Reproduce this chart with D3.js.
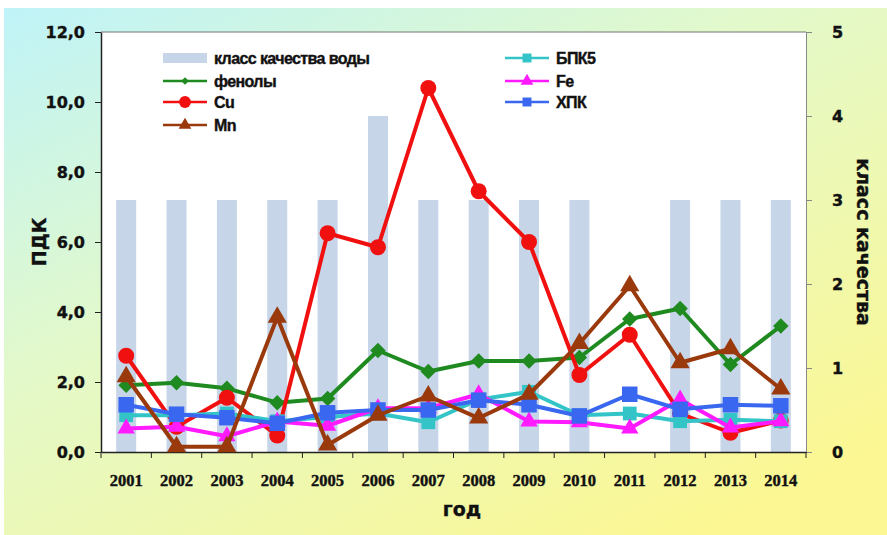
<!DOCTYPE html>
<html><head><meta charset="utf-8">
<script src="https://cdn.jsdelivr.net/npm/d3@7"></script>
<style>html,body{margin:0;padding:0;background:#fff;}svg{display:block;}</style>
</head><body>
<script>
const years = ["2001","2002","2003","2004","2005","2006","2007","2008","2009","2010","2011","2012","2013","2014"];
const classQ = [3,3,3,3,3,4,3,3,3,3,null,3,3,3];
const phenols = [1.91,1.98,1.82,1.41,1.53,2.9,2.3,2.6,2.6,2.7,3.8,4.1,2.5,3.6];
const cu = [2.75,0.72,1.55,0.47,6.25,5.85,10.4,7.45,6.0,2.2,3.35,1.1,0.55,0.9];
const mn = [2.15,0.15,0.15,3.85,0.2,1.05,1.6,0.97,1.65,3.1,4.75,2.55,2.95,1.8];
const bod5 = [1.05,1.05,1.1,0.88,1.0,1.1,0.85,1.5,1.72,1.05,1.1,0.88,0.92,0.88];
const fe = [0.67,0.72,0.45,0.87,0.75,1.25,1.25,1.65,0.87,0.85,0.67,1.5,0.7,0.88];
const cod = [1.35,1.08,0.98,0.82,1.12,1.2,1.2,1.48,1.35,1.03,1.65,1.22,1.35,1.32];
const leftTicks = [0,2,4,6,8,10,12];
const rightTicks = [0,1,2,3,4,5];

const W = 887, H = 535;
const svg = d3.select("body").append("svg").attr("width", W).attr("height", H);
const defs = svg.append("defs");
const g = defs.append("linearGradient").attr("id","bg").attr("x1","0").attr("y1","0").attr("x2","0.8").attr("y2","1");
g.append("stop").attr("offset","0").attr("stop-color","#bff3f8");
g.append("stop").attr("offset","0.45").attr("stop-color","#e4f9c8");
g.append("stop").attr("offset","1").attr("stop-color","#fcf792");
svg.append("rect").attr("x",4).attr("y",8).attr("width",W-4).attr("height",H-8).attr("fill","url(#bg)");

const L = 101, R = 806, T = 32, B = 452;
const x = d3.scaleBand().domain(years).range([L, R]);
const yL = d3.scaleLinear().domain([0,12]).range([B, T]);
const yR = d3.scaleLinear().domain([0,5]).range([B, T]);
const cx = d => x(d) + x.bandwidth()/2;

svg.append("rect").attr("x",L).attr("y",T).attr("width",R-L).attr("height",B-T).attr("fill","#fff");

// bars
svg.append("g").selectAll("rect").data(years.map((y,i)=>({y, v:classQ[i]})).filter(d=>d.v!=null))
  .join("rect").attr("x",d=>cx(d.y)-10).attr("width",20)
  .attr("y",d=>yR(d.v)).attr("height",d=>B-yR(d.v)).attr("fill","#c6d5e8");

svg.append("line").attr("x1",L).attr("x2",R).attr("y1",T).attr("y2",T).attr("stroke","#777").attr("stroke-width",1);

const numFmt = d => d.toFixed(1).replace(".", ",");
const axL = svg.append("g").attr("transform",`translate(${L},0)`)
  .call(d3.axisLeft(yL).tickValues(leftTicks).tickFormat(numFmt).tickSize(6).tickSizeOuter(0).tickPadding(10));
axL.select(".domain").attr("stroke","#222").attr("stroke-width",1.5);
axL.selectAll(".tick line").attr("stroke","#222");
axL.selectAll("text").attr("font-family","DejaVu Sans").attr("font-weight","bold").attr("font-size",16).attr("fill","#111").attr("stroke","#111").attr("stroke-width",0.4);

const axR = svg.append("g").attr("transform",`translate(${R},0)`)
  .call(d3.axisRight(yR).tickValues(rightTicks).tickFormat(d3.format("d")).tickSize(6).tickSizeOuter(0).tickPadding(20));
axR.select(".domain").attr("stroke","#888").attr("stroke-width",1);
axR.selectAll(".tick line").attr("stroke","#888");
axR.selectAll("text").attr("font-family","DejaVu Sans").attr("font-weight","bold").attr("font-size",16).attr("fill","#111").attr("stroke","#111").attr("stroke-width",0.4);

const axB = svg.append("g").attr("transform",`translate(0,${B})`)
  .call(d3.axisBottom(x).tickSize(0).tickSizeOuter(0).tickPadding(22));
axB.select(".domain").attr("stroke","#222").attr("stroke-width",1.5);
axB.selectAll("text").attr("font-family","Liberation Serif").attr("font-weight","bold").attr("font-size",16.5).attr("fill","#111").attr("stroke","#111").attr("stroke-width",0.4);
const bounds = years.map(y=>x(y)).concat([R]);
svg.append("g").selectAll("line").data(bounds).join("line")
  .attr("x1",d=>d).attr("x2",d=>d).attr("y1",B).attr("y2",B+6).attr("stroke","#222");

const titleStyle = sel => sel.attr("font-family","DejaVu Sans").attr("font-weight","bold").attr("font-size",19).attr("fill","#111").attr("stroke","#111").attr("stroke-width",0.4);
svg.append("text").attr("transform",`translate(46,${(T+B)/2}) rotate(-90)`).attr("text-anchor","middle").call(titleStyle).text("ПДК");
svg.append("text").attr("transform",`translate(857,${(T+B)/2}) rotate(90)`).attr("text-anchor","middle").call(titleStyle).text("класс качества");
svg.append("text").attr("x",462).attr("y",516).attr("text-anchor","middle").call(titleStyle).text("год");

const series = [
  {name:"фенолы", data:phenols, color:"#1f8a1f", sym:"diamond", size:120, lw:4},
  {name:"Cu", data:cu, color:"#f01010", sym:"circle", size:200, lw:4},
  {name:"БПК5", data:bod5, color:"#33c4c8", sym:"square", size:190, lw:4},
  {name:"Fe", data:fe, color:"#ff1aff", sym:"triangle", size:130, lw:4},
  {name:"ХПК", data:cod, color:"#3a67ef", sym:"square", size:240, lw:4},
  {name:"Mn", data:mn, color:"#9a3a0c", sym:"triangle", size:160, lw:4}
];
const symType = s => s==="circle"?d3.symbolCircle:s==="triangle"?d3.symbolTriangle:d3.symbolSquare;
function marker(sel, s, size){
  sel.attr("d", d3.symbol().type(symType(s.sym)).size(size)).attr("fill", s.color);
}
const line = d3.line().x((d,i)=>cx(years[i])).y(d=>yL(d));
series.forEach(s=>{
  const gs = svg.append("g");
  gs.append("path").attr("d", line(s.data)).attr("fill","none").attr("stroke",s.color).attr("stroke-width",s.lw).attr("stroke-linejoin","round");
  gs.selectAll("path.m").data(s.data).join("path").attr("class","m")
    .attr("transform",(d,i)=>`translate(${cx(years[i])},${yL(d)})${s.sym==="diamond"?" rotate(45)":""}`)
    .call(sel=>marker(sel, s, s.size));
});

// legend
const lg = svg.append("g").attr("font-family","Liberation Sans").attr("font-weight","bold").attr("font-size",16).attr("fill","#111");
lg.append("rect").attr("x",163).attr("y",53).attr("width",44).attr("height",10).attr("fill","#c6d5e8");
lg.append("text").attr("x",214).attr("y",64).attr("letter-spacing",-0.6).attr("stroke","#111").attr("stroke-width",0.4).text("класс качества воды");
const legItems = [
  {s:series[0], x:163, y:81},
  {s:series[1], x:163, y:102},
  {s:series[5], x:163, y:125},
  {s:series[2], x:505, y:58},
  {s:series[3], x:505, y:81},
  {s:series[4], x:505, y:102}
];
legItems.forEach(it=>{
  lg.append("line").attr("x1",it.x).attr("x2",it.x+44).attr("y1",it.y).attr("y2",it.y).attr("stroke",it.s.color).attr("stroke-width",2.5);
  lg.append("path").attr("transform",`translate(${it.x+22},${it.y})${it.s.sym==="diamond"?" rotate(45)":""}`)
    .call(sel=>marker(sel, it.s, it.s.sym==="diamond"?30:it.s.sym==="circle"?110:it.s.sym==="triangle"?70:80));
  lg.append("text").attr("x",it.x+51).attr("y",it.y+6).attr("letter-spacing",-0.6).attr("stroke","#111").attr("stroke-width",0.4).text(it.s.name);
});
</script>
</body></html>
